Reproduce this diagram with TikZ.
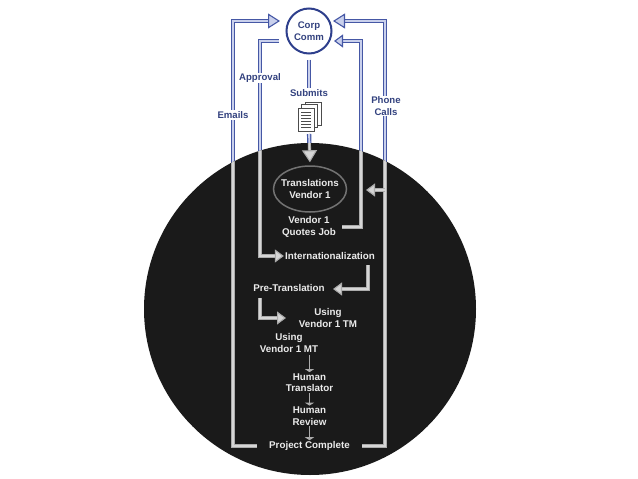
\documentclass[tikz,border=0pt]{standalone}
\usepackage{fontspec}
\setmainfont{Liberation Sans}
\usepackage{xcolor}
\usetikzlibrary{arrows.meta,positioning,shapes.geometric}
\definecolor{corpblue}{HTML}{2E3F8C}
\definecolor{labelblue}{HTML}{33427F}
\definecolor{railblue}{HTML}{4557A5}
\definecolor{railpale}{HTML}{C9D0EC}
\definecolor{railgrey}{HTML}{ABABAB}
\definecolor{railwhite}{HTML}{D6D6D6}
\definecolor{discblack}{HTML}{1A1A1A}
\colorlet{railedge}{railblue}
\colorlet{railfill}{railpale}
\pgfdeclarelayer{bluelayer}
\pgfdeclarelayer{disclayer}
\pgfdeclarelayer{raillayer}
\pgfsetlayers{bluelayer,disclayer,raillayer,main}
\tikzset{
  rail/.style={draw=railedge, line width=1.2pt, double=railfill, double distance=1.9pt},
  bighead/.style={-{Triangle[length=12pt,width=15pt,fill=railfill,color=railedge,line width=1.1pt]}},
  midhead/.style={-{Triangle[length=9pt,width=13pt,fill=railfill,color=railedge,line width=1.1pt]}},
  blue label/.style={font=\bfseries\fontsize{9.6}{11.5}\selectfont, text=labelblue, fill=white, align=center, inner sep=1pt},
  step label/.style={font=\bfseries\fontsize{9.8}{11.5}\selectfont, text=white!92!black, align=center, inner sep=1pt},
  page/.style={draw=black!70, fill=white, line width=0.5pt, minimum width=16pt, minimum height=23pt, inner sep=0pt},
  tinyarrow/.style={draw=railgrey, line width=1.3pt, -{Triangle[length=3pt,width=9pt,color=railgrey]}}
}
% every rail is drawn twice: blue over the paper, thinner and grey inside the disc
\newcommand{\railroutes}{
  \draw[rail,bighead,shorten <=11pt] (done.west) -| (mailrail) -- (mailend);
  \draw[rail,bighead,shorten <=11pt] (done.east) -| (phonerail) -- (phoneend);
  \draw[rail,midhead] (phonetap) -- (vendorin);
  \draw[rail,midhead] (approvalstart) -- (approvalrail) |- (intl.west);
  \draw[rail,midhead,shorten <=5pt] (quotes.east) -| (quoterail) -- (quoteend);
  \draw[rail,shorten <=5pt] (corp.south) -- (submits.north);
  \draw[rail,bighead,shorten <=3pt,shorten >=3pt] (docout) -- (vendor.north);
}
\begin{document}
\begin{tikzpicture}[x=1pt,y=-1pt,>=Latex]
\useasboundingbox (0,0) rectangle (638,479);
\begin{pgfonlayer}{disclayer}
\node[circle, fill=discblack, minimum size=332pt, inner sep=0pt] (disc) at (310,309) {};
\end{pgfonlayer}
\node[circle, draw=corpblue, line width=2pt, fill=white, minimum size=45pt, inner sep=0pt, align=center, font=\bfseries\fontsize{9.6}{12}\selectfont, text=labelblue] (corp) at (309,31) {Corp\\Comm};
\node[blue label] (approval) at (260,78) {Approval};
\node[blue label] (emails) at (233,115) {Emails};
\node[blue label] (submits) at (309,93) {Submits};
\node[blue label] (phone) at (386,106) {Phone\\Calls};
% stack of papers
\node[page] (doc3) at (313,113.5) {};
\node[page] (doc2) at (309.5,116) {};
\node[page] (doc) at (306,119.5) {};
\foreach \yy in {112,115,118,121,124,127}
  \draw[black!70, line width=0.5pt] (301,\yy) -- (311,\yy);
\node[step label, ellipse, draw=black!55!white, line width=1.5pt, minimum width=73pt, minimum height=46pt, inner xsep=-8pt, inner ysep=-6pt] (vendor) at (310,189) {Translations\\Vendor 1};
\node[step label] (quotes) at (309,227) {Vendor 1\\Quotes Job};
\node[step label] (intl) at (330,256) {Internationalization};
\node[step label] (pre) at (289,288) {Pre-Translation};
\node[step label] (usetm) at (328,318) {Using\\Vendor 1 TM};
\node[step label] (usemt) at (289,343) {Using\\Vendor 1 MT};
\node[step label] (translator) at (309.5,382.5) {Human\\Translator};
\node[step label] (review) at (309.5,416) {Human\\Review};
\node[step label] (done) at (309.5,446) {Project Complete};
\coordinate (mailrail) at (233,21);
\coordinate (mailend) at (280,21);
\coordinate (phonerail) at (385,21);
\coordinate (phoneend) at (333,21);
\coordinate (phonetap) at (385,190);
\coordinate (vendorin) at (366,190);
\coordinate (approvalstart) at (279,41);
\coordinate (approvalrail) at (260,41);
\coordinate (quoterail) at (361,41);
\coordinate (quoteend) at (334,41);
\coordinate (docout) at (309,131);
\coordinate (intlout) at (368,265);
\coordinate (prein) at (333,289);
\coordinate (preout) at (260,298);
\coordinate (tmin) at (286,318);
\coordinate (mtout) at (309.5,355);
\begin{pgfonlayer}{bluelayer}
\railroutes
\end{pgfonlayer}
\begin{pgfonlayer}{raillayer}
\begin{scope}[rail/.append style={line width=0.8pt, double distance=1.5pt}]
\colorlet{railedge}{railgrey}
\colorlet{railfill}{railwhite}
\begin{scope}
\clip (310,309) circle (166);
\railroutes
\end{scope}
\draw[rail,midhead] (intlout) |- (prein);
\draw[rail,midhead] (preout) |- (tmin);
\end{scope}
\draw[tinyarrow] (mtout) -- (translator.north);
\draw[tinyarrow] (translator.south) -- (review.north);
\draw[tinyarrow] (review.south) -- (done.north);
\end{pgfonlayer}
\end{tikzpicture}
\end{document}
